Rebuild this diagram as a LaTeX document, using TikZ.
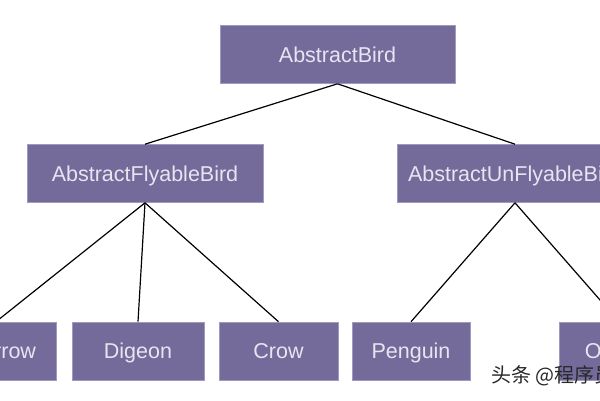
\documentclass[tikz,border=0pt]{standalone}
\usepackage{fontspec}
\setmainfont{Liberation Sans}
\newfontfamily\cjkfont{Noto Sans CJK SC}
\definecolor{boxfill}{RGB}{116,107,155}
\definecolor{boxline}{RGB}{160,153,192}
\definecolor{boxtext}{RGB}{232,228,240}
\definecolor{wmtext}{RGB}{40,40,40}
\begin{document}
\begin{tikzpicture}[x=1pt,y=-1pt,
  cls/.style={draw=boxline,line width=0.6pt,fill=boxfill,text=boxtext,
    font=\fontsize{21.5}{24}\selectfont,inner sep=0pt,minimum height=58pt,
    text height=15.4pt,text depth=0pt},
  link/.style={draw=black,line width=1.2pt}]
\useasboundingbox (0,0) rectangle (600,400);
\clip (0,0) rectangle (600,400);
\fill[white] (0,0) rectangle (600,400);
\node[cls,minimum width=235pt] (bird) at (337.5,54.5) {AbstractBird};
\node[cls,minimum width=236pt] (fly) at (145,173.5) {AbstractFlyableBird};
\node[cls,minimum width=236pt] (unfly) at (515,173.5) {AbstractUnFlyableBird};
\node[cls,minimum width=120pt] (sparrow) at (-4,351) {Sparrow};
\node[cls,minimum width=132pt] (digeon) at (138,351) {Digeon};
\node[cls,minimum width=119pt] (crow) at (278.5,351) {Crow};
\node[cls,minimum width=118pt] (penguin) at (411,351) {Penguin};
\node[cls,minimum width=120pt] (ostrich) at (619,351) {Ostrich};
\draw[link] (bird.south) -- (fly.north);
\draw[link] (bird.south) -- (unfly.north);
\draw[link] (fly.south) -- (sparrow.north);
\draw[link] (fly.south) -- (digeon.north);
\draw[link] (fly.south) -- (crow.north);
\draw[link] (unfly.south) -- (penguin.north);
\draw[link] (unfly.south) -- (ostrich.north);
\node[anchor=west,inner sep=0pt,text=wmtext,font=\cjkfont\fontsize{20}{22}\selectfont] (wm) at (491,376) {头条 @程序员};
\end{tikzpicture}
\end{document}
